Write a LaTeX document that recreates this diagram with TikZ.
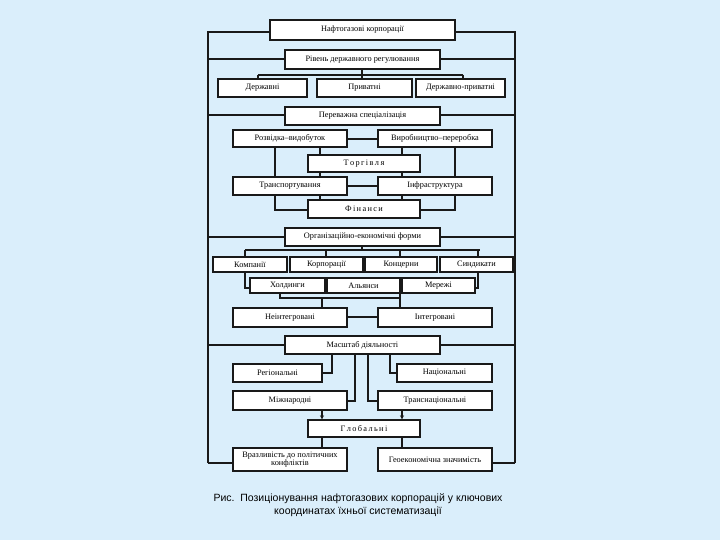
\documentclass[tikz,border=0pt]{standalone}
\usepackage{fontspec}
\setmainfont{Liberation Serif}
\newfontfamily\capfont{Liberation Sans}
\usetikzlibrary{arrows.meta}
\definecolor{bgc}{RGB}{218,238,251}
\definecolor{ln}{RGB}{25,25,25}
\tikzset{x=1pt,y=-1pt,
 bx/.style={draw=ln,line width=1.4pt,fill=white,inner sep=0pt,font=\fontsize{8.3}{8.5}\selectfont,align=center},
 cn/.style={draw=ln,line width=1.3pt},
 ar/.style={cn,-{Stealth[length=4pt,width=4pt]}}}
\newcommand{\bxat}[6]{\node[bx,minimum width=#3-#2,minimum height=#5-#4] (#1) at ({(#2+#3)/2},{(#4+#5)/2}) {#6};}
\begin{document}
\begin{tikzpicture}
\fill[bgc] (0,0) rectangle (720,540);
\draw[cn] (208,463) -- (208,32) -- (515,32) -- (515,463);
\foreach \y in {59,115,237,345} \draw[cn] (208,\y) -- (515,\y);
% level 1 bracket
\draw[cn] (362,69) -- (362,75) (258,75) -- (463,75);
\draw[cn] (258,75) -- (258,79) (362,75) -- (362,79) (463,75) -- (463,79);
% specialisation group
\draw[cn] (347,139) -- (378,139) (347,186) -- (378,186);
\draw[cn] (275,147) -- (275,210) -- (308,210);
\draw[cn] (455,147) -- (455,210) -- (420,210);
\foreach \x in {320,402}{
 \draw[cn] (\x,147) -- (\x,155) (\x,172) -- (\x,177) (\x,195) -- (\x,200);}
% org forms
\draw[cn] (362,246) -- (362,250) (245,250) -- (480,250);
\foreach \x in {245,326,400,478} \draw[cn] (\x,250) -- (\x,257);
\draw[cn] (245,272) -- (245,288) -- (250,288);
\draw[cn] (478,272) -- (478,288) -- (475,288);
\draw[cn] (280,293) -- (280,298) -- (400,298) (400,293) -- (400,308);
\draw[cn] (322,298) -- (322,308);
\draw[cn] (347,317) -- (378,317);
% scale
\draw[cn] (332,354) -- (332,373) -- (322,373);
\draw[cn] (390,354) -- (390,373) -- (397,373);
\draw[cn] (355,354) -- (355,401) -- (347,401);
\draw[cn] (368,354) -- (368,401) -- (378,401);
\draw[cn] (322,437) -- (322,448) (402,437) -- (402,448);
\draw[cn] (208,463) -- (233,463) (515,463) -- (492,463);
% boxes
\bxat{n0}{270}{455}{20}{40}{Нафтогазові корпорації}
\bxat{n1}{285}{440}{50}{69}{Рівень державного регулювання}
\bxat{a1}{218}{307}{79}{97}{Державні}
\bxat{a2}{317}{412}{79}{97}{Приватні}
\bxat{a3}{416}{505}{79}{97}{Державно-приватні}
\bxat{n2}{285}{440}{107}{125}{Переважна спеціалізація}
\bxat{b1}{233}{347}{130}{147}{Розвідка–видобуток}
\bxat{b2}{378}{492}{130}{147}{Виробництво–переробка}
\bxat{b3}{308}{420}{155}{172}{Т\,о\,р\,г\,і\,в\,л\,я}
\bxat{b4}{233}{347}{177}{195}{Транспортування}
\bxat{b5}{378}{492}{177}{195}{Інфраструктура}
\bxat{b6}{308}{420}{200}{218}{Ф\,і\,н\,а\,н\,с\,и}
\bxat{n3}{285}{440}{228}{246}{Організаційно-економічні форми}
\bxat{c1}{213}{287}{257}{272}{Компанії}
\bxat{c2}{290}{363}{257}{272}{Корпорації}
\bxat{c3}{365}{437}{257}{272}{Концерни}
\bxat{c4}{440}{513}{257}{272}{Синдикати}
\bxat{d1}{250}{325}{278}{293}{Холдинги}
\bxat{d2}{327}{400}{278}{293}{Альянси}
\bxat{d3}{402}{475}{278}{293}{Мережі}
\bxat{e1}{233}{347}{308}{327}{Неінтегровані}
\bxat{e2}{378}{492}{308}{327}{Інтегровані}
\bxat{n4}{285}{440}{336}{354}{Масштаб діяльності}
\bxat{f1}{233}{322}{364}{382}{Регіональні}
\bxat{f2}{397}{492}{364}{382}{Національні}
\bxat{f3}{233}{347}{391}{410}{Міжнародні}
\bxat{f4}{378}{492}{391}{410}{Транснаціональні}
\bxat{g0}{308}{420}{420}{437}{Г\,л\,о\,б\,а\,л\,ь\,н\,і}
\bxat{h1}{233}{347}{448}{471}{Вразливість до політичних\\[-1pt]конфліктів}
\bxat{h2}{378}{492}{448}{471}{Геоекономічна значимість}
\draw[ar] (f3.south -| 322,0) -- (g0.north -| 322,0);
\draw[ar] (f4.south -| 402,0) -- (g0.north -| 402,0);
% caption
\node[font=\capfont\fontsize{10.5}{13}\selectfont,align=center,text=black] (cap) at (358,505) {Рис.\ \ Позиціонування нафтогазових корпорацій у ключових\\координатах їхньої систематизації};
\end{tikzpicture}
\end{document}
